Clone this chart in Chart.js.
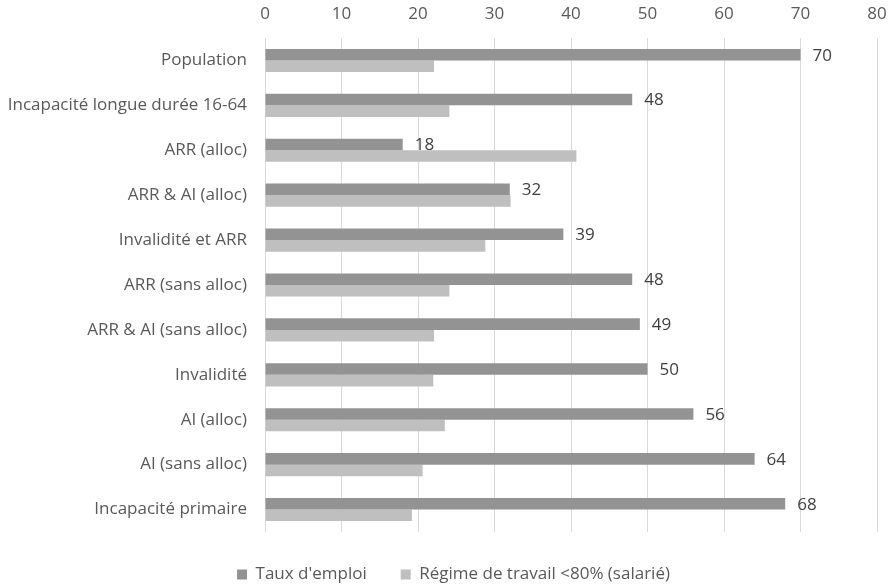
<!DOCTYPE html>
<html lang="fr">
<head>
<meta charset="utf-8">
<title>Taux d'emploi et régime de travail</title>
<script src="https://cdn.jsdelivr.net/npm/chart.js@4.4.1/dist/chart.umd.min.js"></script>
<style>
  html, body { margin: 0; padding: 0; background: #ffffff; }
  #wrap { width: 890px; height: 585px; }
</style>
</head>
<body>
<div id="wrap"><canvas id="c" width="890" height="585"></canvas></div>
<script>
// Categories, top to bottom
const categories = [
  'Population',
  'Incapacité longue durée 16-64',
  'ARR (alloc)',
  'ARR & AI (alloc)',
  'Invalidité et ARR',
  'ARR (sans alloc)',
  'ARR & AI (sans alloc)',
  'Invalidité',
  'AI (alloc)',
  'AI (sans alloc)',
  'Incapacité primaire'
];

// Series values (%)
const tauxEmploi = [70, 48, 18, 32, 39, 48, 49, 50, 56, 64, 68];
const regimeTravail = [22.1, 24.1, 40.7, 32.1, 28.8, 24.1, 22.1, 22.0, 23.5, 20.6, 19.2];

const seriesNames = ["Taux d'emploi", 'Régime de travail <80% (salarié)'];

// Value axis ticks
const axisTicks = [0, 10, 20, 30, 40, 50, 60, 70, 80];

const FONT = '"Open Sans"';
const FONT_SIZE = 17;
const TEXT = '#595959';

// Writes the employment rate to the right of each dark bar
const barValueLabels = {
  id: 'barValueLabels',
  afterDatasetsDraw(chart) {
    const ctx = chart.ctx;
    const meta = chart.getDatasetMeta(0);
    const values = chart.data.datasets[0].data;
    ctx.save();
    ctx.font = FONT_SIZE + 'px ' + FONT;
    ctx.fillStyle = '#404040';
    ctx.textAlign = 'left';
    ctx.textBaseline = 'middle';
    meta.data.forEach((bar, i) => {
      ctx.fillText(String(values[i]), bar.x + 12, bar.y + 1);
    });
    ctx.restore();
  }
};

// Nudges the bottom legend a little to the right of the canvas centre
const legendShift = {
  id: 'legendShift',
  afterLayout(chart) {
    if (chart.legend) {
      chart.legend.left += 15;
      chart.legend.right += 15;
    }
  }
};

new Chart(document.getElementById('c'), {
  type: 'bar',
  data: {
    labels: categories,
    datasets: [
      {
        label: seriesNames[0],
        data: tauxEmploi,
        backgroundColor: '#939393',
        categoryPercentage: 0.515,
        barPercentage: 1.0
      },
      {
        label: seriesNames[1],
        data: regimeTravail,
        backgroundColor: '#bfbfbf',
        categoryPercentage: 0.515,
        barPercentage: 1.0
      }
    ]
  },
  options: {
    indexAxis: 'y',
    responsive: false,
    animation: false,
    devicePixelRatio: 1,
    layout: { padding: { left: 0, right: 13, top: 0, bottom: -8 } },
    scales: {
      x: {
        position: 'top',
        min: axisTicks[0],
        max: axisTicks[axisTicks.length - 1],
        afterBuildTicks(scale) {
          scale.ticks = axisTicks.map(v => ({ value: v }));
        },
        afterFit(scale) {
          scale.height = 38;
          scale.paddingLeft = 0;
          scale.paddingRight = 0;
        },
        grid: { color: '#d9d9d9', lineWidth: 1, drawTicks: false },
        border: { display: false },
        ticks: {
          padding: 14,
          color: TEXT,
          font: { family: FONT, size: FONT_SIZE }
        }
      },
      y: {
        afterFit(scale) { scale.width = 265; },
        grid: { display: false, drawTicks: false },
        border: { display: false },
        ticks: {
          padding: 18,
          color: TEXT,
          font: { family: FONT, size: FONT_SIZE }
        }
      }
    },
    plugins: {
      legend: {
        position: 'bottom',
        labels: {
          boxWidth: 10,
          boxHeight: 10,
          padding: 34,
          color: TEXT,
          font: { family: FONT, size: FONT_SIZE }
        }
      },
      tooltip: { enabled: false }
    }
  },
  plugins: [barValueLabels, legendShift]
});
</script>
</body>
</html>
